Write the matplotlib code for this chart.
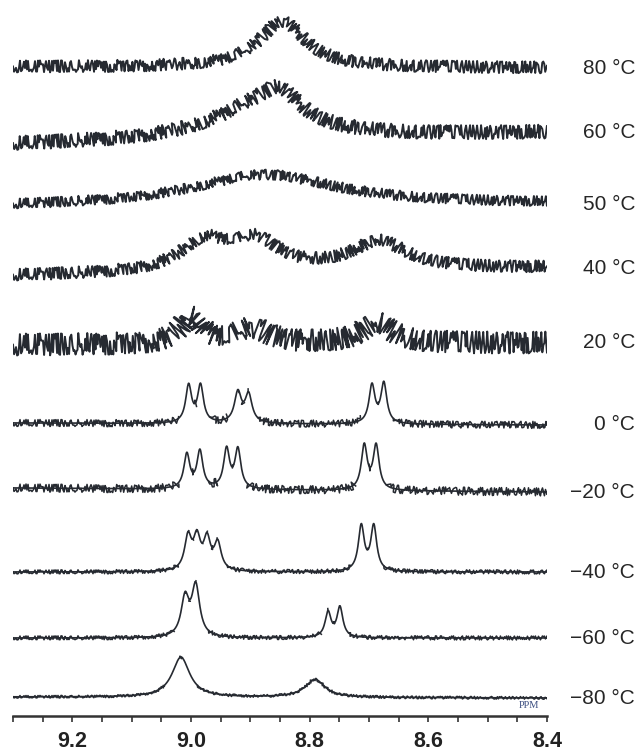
import numpy as np
import matplotlib
matplotlib.use("Agg")
import matplotlib.pyplot as plt
from matplotlib.ticker import MultipleLocator

plt.rcParams['font.family'] = ['Liberation Sans', 'DejaVu Sans']

# temperatures, top trace first
temps = [80, 60, 50, 40, 20, 0, -20, -40, -60, -80]

# baseline level of each trace at the left (9.3 ppm) and right (8.4 ppm) end
base_left = [649, 571, 509, 440, 371, 293, 228, 144, 78, 19]
base_right = [648, 583, 512, 448, 373, 291, 224, 144, 78, 18]

# peaks: position (ppm), height, half width (ppm)
peak_pos = [
    [8.846],
    [8.89, 8.85],
    [8.876],
    [8.977, 8.89, 8.683],
    [9.000, 8.896, 8.687],
    [9.004, 8.984, 8.921, 8.903, 8.695, 8.675],
    [9.007, 8.985, 8.940, 8.921, 8.708, 8.688],
    [9.005, 8.990, 8.973, 8.955, 8.713, 8.692],
    [9.010, 8.992, 8.769, 8.749],
    [9.017, 8.791],
]
peak_height = [
    [46],
    [30, 26],
    [31],
    [30, 28, 28],
    [27, 15, 20],
    [37, 37, 30, 28, 38, 40],
    [34, 37, 39, 39, 44, 44],
    [33, 31, 30, 27, 45, 45],
    [38, 50, 25, 30],
    [40, 18],
]
peak_width = [
    [0.048],
    [0.10, 0.04],
    [0.15],
    [0.05, 0.047, 0.058],
    [0.022, 0.033, 0.033],
    [0.006, 0.006, 0.007, 0.007, 0.006, 0.006],
    [0.006, 0.006, 0.006, 0.006, 0.006, 0.006],
    [0.007, 0.007, 0.007, 0.007, 0.006, 0.006],
    [0.008, 0.008, 0.006, 0.006],
    [0.018, 0.02],
]
# noise level of each trace (drawn as a line wiggle)
noise = [6, 7, 5, 6, 11, 3.5, 4, 2, 2, 1.3]

ppm = np.linspace(9.30, 8.40, 1500)
px_per_step = 534 / 1500

fig = plt.figure(figsize=(6.39, 7.51), dpi=100)
ax = fig.add_axes([13 / 639, 35 / 751, 534 / 639, 716 / 751])

for i, t in enumerate(temps):
    frac = (9.30 - ppm) / 0.90
    y = base_left[i] + (base_right[i] - base_left[i]) * frac
    for p, h, w in zip(peak_pos[i], peak_height[i], peak_width[i]):
        y = y + h / (1 + ((ppm - p) / w) ** 2)
    if noise[i] > 4.5:
        # broad, noisy spectra: wiggle everywhere
        line, = ax.plot(ppm, y, color='#262a31', lw=1.4)
    else:
        # sharp spectra: clean peaks, noise on the flatter parts
        ax.plot(ppm, y, color='#262a31', lw=1.2)
        slope = np.abs(np.gradient(y)) / px_per_step
        line, = ax.plot(ppm, np.where(slope < 1.0, y, np.nan),
                        color='#262a31', lw=1.1)
    line.set_sketch_params(float(noise[i]), 1.5, 4.0)
    lab = ('\u2212' if t < 0 else '') + '%d \u00b0C' % abs(t)
    ax.text(1.165, base_right[i], lab, transform=ax.get_yaxis_transform(),
            ha='right', va='center', fontsize=15, color='#262626')

ax.text(8.43, 10, 'PPM', fontsize=7.5, family='Liberation Serif',
        color='#3b4d80', ha='center', va='center')

ax.set_xlim(9.30, 8.40)
ax.set_ylim(0, 716)
ax.xaxis.set_major_locator(MultipleLocator(0.2))
ax.xaxis.set_minor_locator(MultipleLocator(0.05))
ax.xaxis.set_major_formatter(plt.FormatStrFormatter('%.1f'))
ax.tick_params(axis='x', which='both', length=4, width=1.2, color='#333333',
               direction='out', labelsize=15.5, pad=7, labelcolor='#222222')
for lab in ax.get_xticklabels():
    lab.set_fontweight('bold')
ax.set_yticks([])
for s in ['left', 'right', 'top']:
    ax.spines[s].set_visible(False)
ax.spines['bottom'].set_linewidth(1.8)
ax.spines['bottom'].set_color('#333333')
ax.patch.set_visible(False)

fig.savefig('out.png', dpi=100)
